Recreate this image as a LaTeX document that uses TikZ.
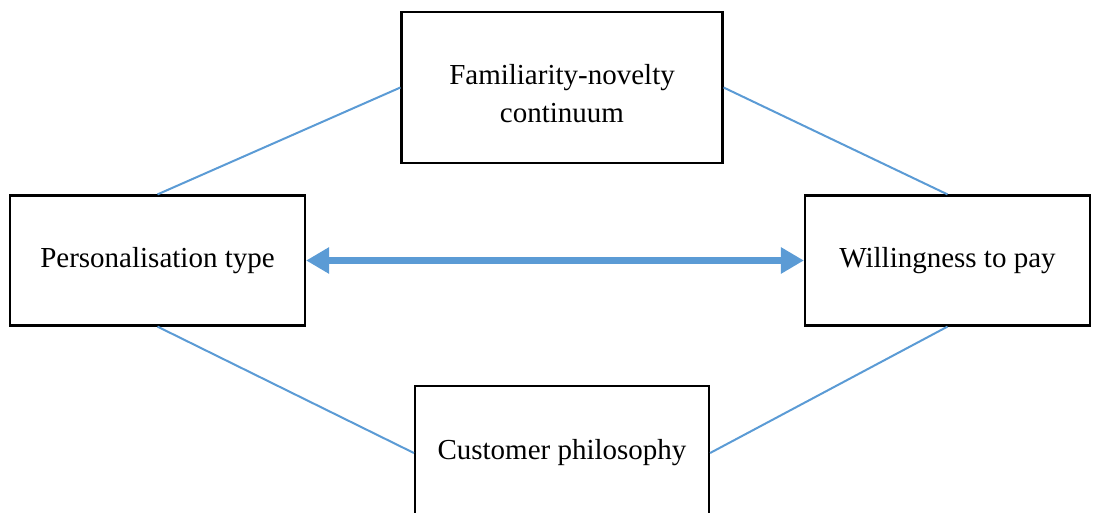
\documentclass[tikz,border=0pt]{standalone}
\usepackage{fontspec}
\setmainfont{Liberation Serif}
\usetikzlibrary{arrows.meta}
\definecolor{linkblue}{HTML}{5B9BD5}
\begin{document}
\begin{tikzpicture}[x=1pt,y=-1pt,
  box/.style={draw=black, line width=2.2pt, fill=white, inner sep=0pt,
    font=\fontsize{29}{38}\selectfont, align=center},
  label text/.style={inner sep=0pt, font=\fontsize{29}{38}\selectfont, align=center},
  link/.style={draw=linkblue, line width=2pt},
  bigarrow/.style={draw=linkblue, line width=7pt,
    {Triangle[length=23pt,width=25pt]}-{Triangle[length=23pt,width=25pt]}}]
  \useasboundingbox (0,0) rectangle (1099,513);
  \clip (0,0) rectangle (1099,513);
  % the four concepts
  \node[box, minimum width=321pt, minimum height=151pt] (fam) at (562,87.5) {};
  \node[label text, anchor=base] (famtext) at ([yshift=-35.5pt]fam.center)
    {Familiarity-novelty\\continuum};
  \node[box, minimum width=295pt, minimum height=130pt] (pers) at (157.5,260.5)
    {Personalisation type};
  \node[box, minimum width=285pt, minimum height=130pt] (wtp) at (947.5,260.5)
    {Willingness to pay};
  \node[box, minimum width=294pt, minimum height=134pt] (cust) at (562,453)
    {Customer philosophy};
  % links between concepts
  \draw[link] (pers.north) -- (fam.west);
  \draw[link] (fam.east) -- (wtp.north);
  \draw[link] (pers.south) -- (cust.west);
  \draw[link] (wtp.south) -- (cust.east);
  % two-way relation
  \draw[bigarrow] (pers.east) -- (wtp.west);
\end{tikzpicture}
\end{document}
